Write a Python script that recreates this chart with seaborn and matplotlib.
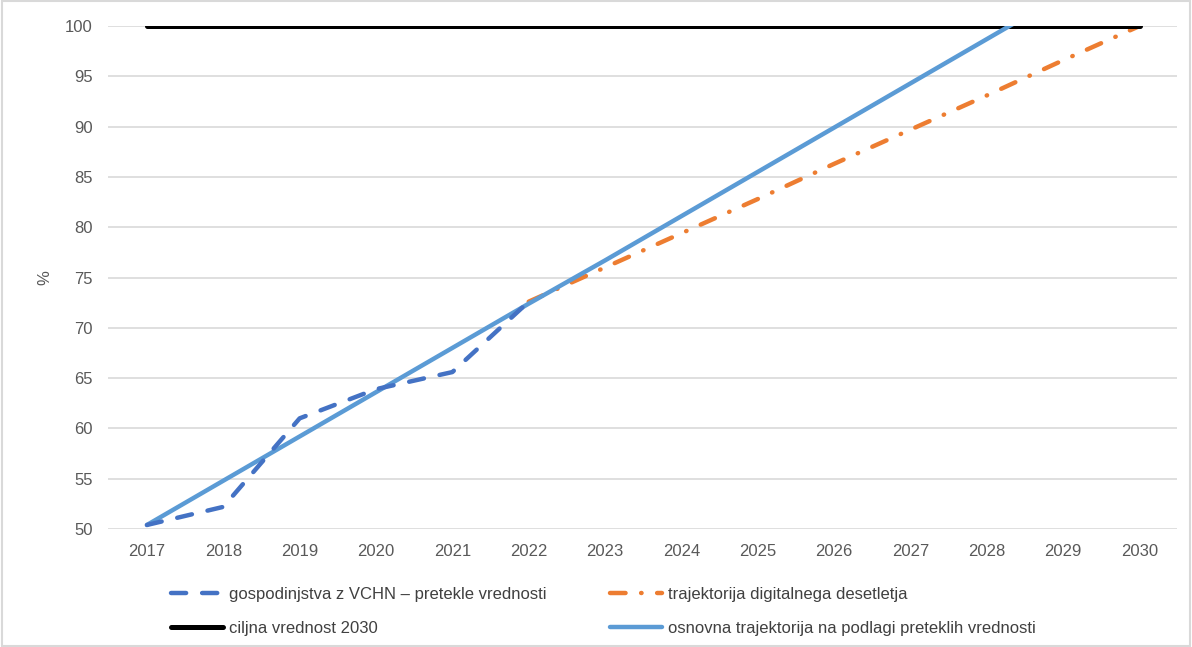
import matplotlib
matplotlib.use("Agg")
import matplotlib.pyplot as plt
import seaborn as sns
from matplotlib.patches import Rectangle

# data
years = [2017, 2018, 2019, 2020, 2021, 2022, 2023, 2024, 2025, 2026, 2027, 2028, 2029, 2030]
past_years = [2017, 2018, 2019, 2020, 2021, 2022]
past_values = [50.4, 52.2, 61.0, 63.9, 65.6, 72.6]
decade_years = [2022, 2023, 2024, 2025, 2026, 2027, 2028, 2029, 2030]
decade_values = [72.6, 76.0, 79.4, 82.8, 86.3, 89.7, 93.1, 96.6, 100.0]
target_values = [100] * len(years)
base_values = [50.4, 54.8, 59.2, 63.6, 68.0, 72.4, 76.7, 81.1, 85.5, 89.9, 94.3, 98.7, 103.1, 107.5]

labels = {
    "past": "gospodinjstva z VCHN – pretekle vrednosti",
    "target": "ciljna vrednost 2030",
    "decade": "trajektorija digitalnega desetletja",
    "base": "osnovna trajektorija na podlagi preteklih vrednosti",
}

sns.set_theme(style="white")
plt.rcParams["font.family"] = ["Liberation Sans", "DejaVu Sans"]

W, H = 1192, 647
fig = plt.figure(figsize=(W / 100, H / 100), dpi=100)
ax = fig.add_axes([108 / W, 1 - 529 / H, (1177 - 108) / W, (529 - 26) / H])

sns.lineplot(x=past_years, y=past_values, ax=ax, color="#4472C4", lw=3.2,
             label=labels["past"])
sns.lineplot(x=years, y=target_values, ax=ax, color="black", lw=3.6,
             label=labels["target"])
sns.lineplot(x=decade_years, y=decade_values, ax=ax, color="#ED7D31", lw=3.2,
             label=labels["decade"])
sns.lineplot(x=years, y=base_values, ax=ax, color="#5B9BD5", lw=3.2,
             label=labels["base"])

lines = ax.get_lines()
lines[0].set_dashes([3.4, 3.6])
lines[0].set_dash_capstyle("round")
lines[2].set_dashes([3.5, 3.5, 0.1, 3.5])
lines[2].set_dash_capstyle("round")
lines[1].set_zorder(3)
lines[3].set_zorder(4)
lines[0].set_zorder(5)
lines[2].set_zorder(2)

ax.set_xlim(2016.49, 2030.49)
ax.set_ylim(50, 100)
ax.set_yticks(range(50, 101, 5))
ax.set_xticks(years)
ax.yaxis.grid(True, color="#d9d9d9", lw=1.2)
for s in ax.spines.values():
    s.set_visible(False)
ax.tick_params(axis="both", length=0, labelsize=12, colors="#595959")
ax.tick_params(axis="x", pad=11)
ax.tick_params(axis="y", pad=11)
ax.set_ylabel("%", fontsize=12, color="#595959", labelpad=9)
ax.set_xlabel("")

handles, labs = ax.get_legend_handles_labels()
ax.legend(handles, labs, ncol=2, loc="upper left",
          bbox_to_anchor=(171 / W, 1 - 587 / H), bbox_transform=fig.transFigure,
          frameon=False, fontsize=12, handlelength=3.1, handletextpad=0.4,
          borderpad=0, borderaxespad=0,
          columnspacing=3.8, labelspacing=1.13, labelcolor="#404040")

fig.patches.append(Rectangle((0.002, 0.002), 0.996, 0.996, transform=fig.transFigure,
                             fill=False, edgecolor="#d9d9d9", lw=1.5))

fig.savefig("out.png", dpi=100)
